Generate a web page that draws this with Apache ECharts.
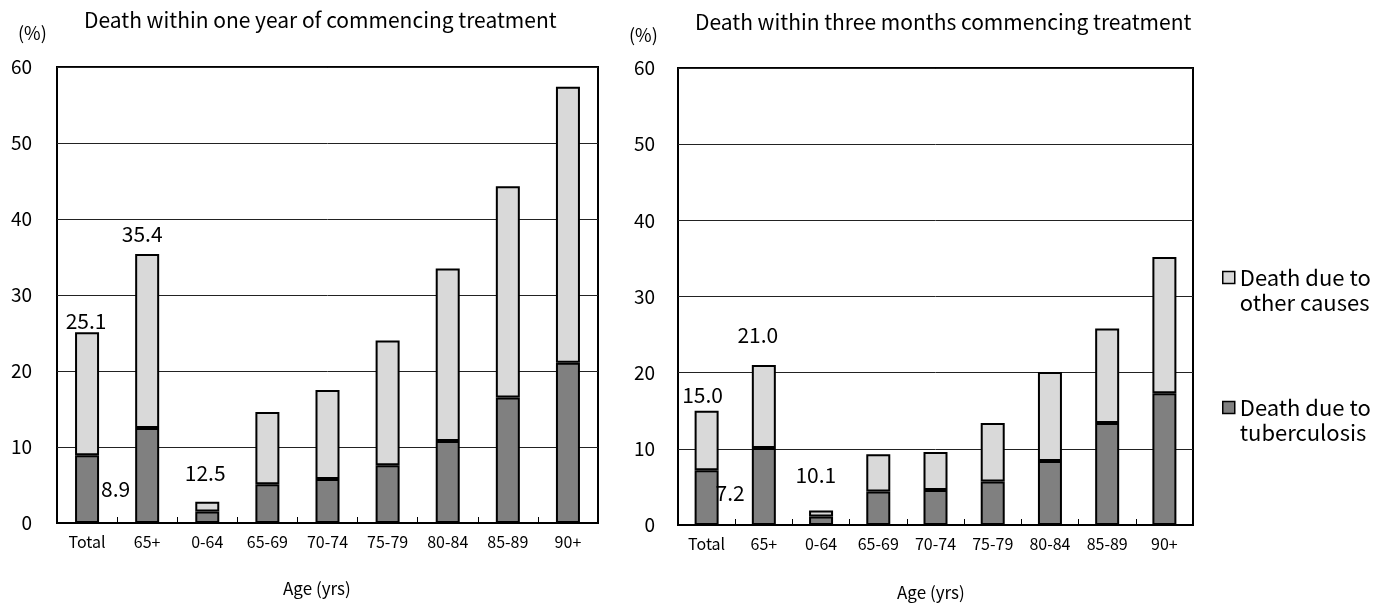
<!DOCTYPE html>
<html>
<head>
    <meta charset="utf-8">
    <script type="text/javascript" src="https://cdn.jsdelivr.net/npm/echarts@6/dist/echarts.min.js"></script>
    <style type="text/css">
        * {
            margin: 0;
            padding: 0;
        }
        #container {
            width: 1380px;
            height: 603px;
            background: #fff;
        }
    </style>
</head>
<body>
<div id="container"></div>

<script type="text/javascript">

    //年龄组
    var categories = ['Total', '65+', '0-64', '65-69', '70-74', '75-79', '80-84', '85-89', '90+'];

    //一年内死亡 (%)
    var yearTb = [8.9, 12.5, 1.5, 5.1, 5.8, 7.6, 10.8, 16.5, 21.1];
    var yearOther = [16.2, 22.9, 1.3, 9.5, 11.7, 16.4, 22.7, 27.8, 36.3];
    var yearLabels = ['25.1', '35.4', '8.9', '12.5'];

    //三个月内死亡 (%)
    var monthTb = [7.2, 10.1, 1.1, 4.4, 4.6, 5.7, 8.4, 13.4, 17.3];
    var monthOther = [7.8, 10.9, 0.8, 4.9, 5.0, 7.7, 11.7, 12.4, 17.9];
    var monthLabels = ['15.0', '21.0', '7.2', '10.1'];

    //y轴刻度
    var yTicks = [0, 10, 20, 30, 40, 50, 60];

    var nameOther = 'Death due to other causes';
    var nameTb = 'Death due to tuberculosis';
    var fontName = 'Noto Sans CJK JP';
    var tbColor = '#808080';
    var otherColor = '#d9d9d9';

    //数据标签样式
    function lbl(text, opts) {
        var l = {
            show: true,
            formatter: text,
            color: '#000',
            fontSize: 21,
            fontFamily: fontName
        };
        for (var k in opts) l[k] = opts[k];
        return l;
    }

    function makeData(values, labelMap) {
        return values.map(function (v, i) {
            if (labelMap[i]) {
                return {value: v, label: labelMap[i]};
            }
            return v;
        });
    }

    var dom = document.getElementById('container');
    var myChart = echarts.init(dom);

    var grids = [
        {left: 57, top: 67, width: 541, height: 456},
        {left: 678, top: 68, width: 515, height: 457}
    ];

    function xAxisFor(idx) {
        return {
            type: 'category',
            gridIndex: idx,
            data: categories,
            axisLine: {show: true, lineStyle: {color: '#000', width: 2}},
            axisTick: {show: true, inside: true, length: 6, lineStyle: {color: '#000', width: 1}},
            axisLabel: {interval: 0, margin: 11, color: '#000', fontSize: 16, fontFamily: fontName}
        };
    }

    function yAxisFor(idx, margin) {
        return {
            type: 'value',
            gridIndex: idx,
            min: yTicks[0],
            max: yTicks[yTicks.length - 1],
            interval: 10,
            axisLine: {show: false},
            axisTick: {show: false},
            axisLabel: {margin: margin, color: '#000', fontSize: 19, fontFamily: fontName},
            splitLine: {show: true, lineStyle: {color: '#222', width: 1}}
        };
    }

    function barSeries(name, idx, data, color) {
        return {
            name: name,
            type: 'bar',
            stack: 's' + idx,
            xAxisIndex: idx,
            yAxisIndex: idx,
            barWidth: 24,
            itemStyle: {color: color, borderColor: '#000', borderWidth: 2},
            data: data
        };
    }

    function titleText(text, left, top, size) {
        return {
            text: text,
            left: left,
            top: top,
            padding: 0,
            textStyle: {fontSize: size, fontWeight: 'normal', color: '#000', fontFamily: fontName}
        };
    }

    //图例：每项单独放置，首行文字与色块对齐
    function legendItem(name, top) {
        return {
            data: [name],
            orient: 'vertical',
            left: 1222,
            top: top,
            padding: 0,
            icon: 'rect',
            itemWidth: 12,
            itemHeight: 12,
            itemGap: 0,
            selectedMode: false,
            itemStyle: {borderColor: '#000', borderWidth: 1.5},
            formatter: function (n) {
                return '\n' + n.replace(' to ', ' to\n');
            },
            textStyle: {
                fontSize: 22,
                lineHeight: 25,
                color: '#000',
                fontFamily: fontName
            }
        };
    }

    var option = {
        backgroundColor: '#fff',
        animation: false,
        title: [
            titleText('(%)', 18, 24, 18),
            titleText('Death within one year of commencing treatment', 84, 10, 21),
            titleText('(%)', 629, 26, 18),
            titleText('Death within three months commencing treatment', 695, 12, 21),
            titleText('Age (yrs)', 283, 580, 17),
            titleText('Age (yrs)', 897, 584, 17)
        ],
        legend: [
            legendItem(nameOther, 240),
            legendItem(nameTb, 370)
        ],
        grid: grids,
        xAxis: [xAxisFor(0), xAxisFor(1)],
        yAxis: [yAxisFor(0, 25), yAxisFor(1, 23)],
        series: [
            barSeries(nameTb, 0, makeData(yearTb, {
                0: lbl(yearLabels[2], {position: 'right', distance: 2}),
                1: lbl(yearLabels[3], {position: 'inside', offset: [58, -2]})
            }), tbColor),
            barSeries(nameOther, 0, makeData(yearOther, {
                0: lbl(yearLabels[0], {position: 'top', distance: 1, offset: [-1, 0]}),
                1: lbl(yearLabels[1], {position: 'top', distance: 9, offset: [-5, 0]})
            }), otherColor),
            barSeries(nameTb, 1, makeData(monthTb, {
                0: lbl(monthLabels[2], {position: 'right', distance: -3, offset: [0, -5]}),
                1: lbl(monthLabels[3], {position: 'inside', offset: [52, -12]})
            }), tbColor),
            barSeries(nameOther, 1, makeData(monthOther, {
                0: lbl(monthLabels[0], {position: 'top', distance: 5, offset: [-4, 0]}),
                1: lbl(monthLabels[1], {position: 'top', distance: 20, offset: [-6, 0]})
            }), otherColor)
        ]
    };

    //网格边框
    option.grid.forEach(function (g) {
        g.show = true;
        g.borderColor = '#000';
        g.borderWidth = 2;
        g.backgroundColor = 'transparent';
    });

    myChart.setOption(option, true);

</script>
</body>
</html>
